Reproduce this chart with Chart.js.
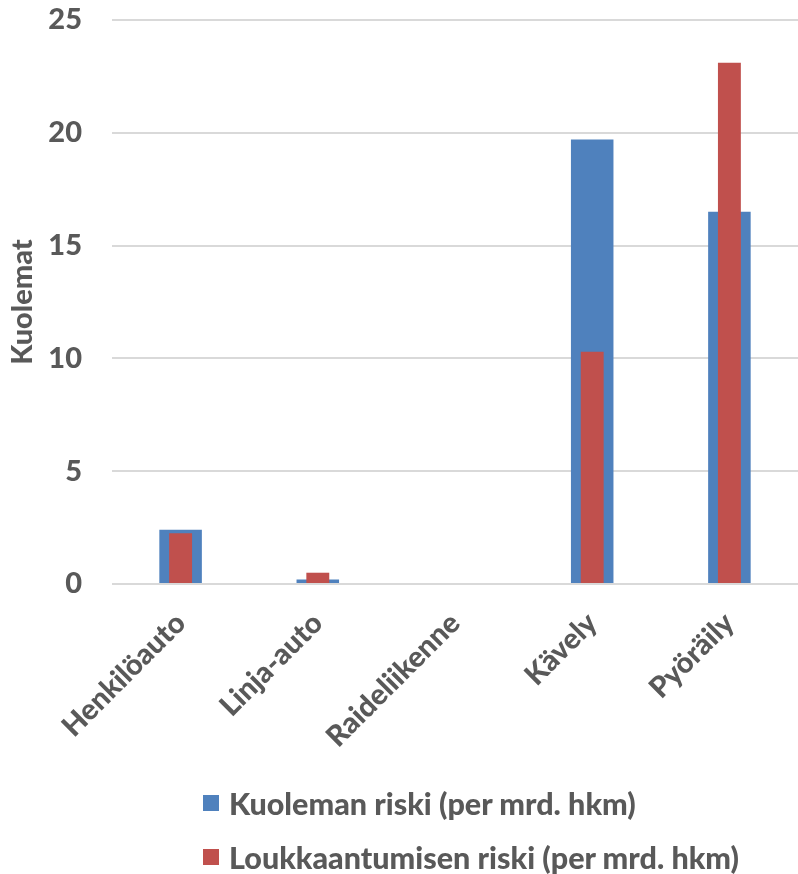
<!DOCTYPE html>
<html>
<head>
<meta charset="utf-8">
<script src="https://cdn.jsdelivr.net/npm/chart.js@4/dist/chart.umd.min.js"></script>
<style>
  html, body { margin: 0; padding: 0; background: #fff; }
  #wrap { position: relative; width: 798px; height: 874px; }
  #c { position: absolute; left: 0; top: 0; }
  #legend { position: absolute; left: 203px; top: 776px; font-family: Lato, "Open Sans", sans-serif;
            font-weight: 900; font-size: 30.5px; color: #595959; }
  .row { display: flex; align-items: center; height: 54px; white-space: nowrap; }
  .box { width: 16px; height: 16px; margin-right: 10px; flex: none; }
</style>
</head>
<body>
<div id="wrap">
  <canvas id="c" width="798" height="874"></canvas>
  <div id="legend"></div>
</div>
<script>
const categories = ['Henkilöauto', 'Linja-auto', 'Raideliikenne', 'Kävely', 'Pyöräily'];
const kuolemanRiski = [2.4, 0.2, 0, 19.7, 16.5];
const loukkaantumisenRiski = [2.25, 0.5, 0, 10.3, 23.1];
const seriesNames = ['Kuoleman riski (per mrd. hkm)', 'Loukkaantumisen riski (per mrd. hkm)'];
const seriesColors = ['#4f81bd', '#c0504d'];
const yTicks = [0, 5, 10, 15, 20, 25];

const textColor = '#595959';
const fontFamily = 'Lato, "Open Sans", sans-serif';
const fontWeight = '900';

const chart = new Chart(document.getElementById('c'), {
  type: 'bar',
  data: {
    labels: categories,
    datasets: [
      { label: seriesNames[0], data: kuolemanRiski, backgroundColor: seriesColors[0],
        grouped: false, barPercentage: 0.31, categoryPercentage: 1, order: 1 },
      { label: seriesNames[1], data: loukkaantumisenRiski, backgroundColor: seriesColors[1],
        grouped: false, barPercentage: 0.167, categoryPercentage: 1, order: 0 }
    ]
  },
  options: {
    responsive: false,
    animation: false,
    layout: { padding: { top: 20, right: 0, bottom: 0, left: 0 } },
    plugins: { legend: { display: false }, tooltip: { enabled: false } },
    scales: {
      x: {
        grid: { display: false, drawTicks: false },
        border: { display: false },
        ticks: { color: textColor, font: { family: fontFamily, size: 29, weight: fontWeight },
                 minRotation: 45, maxRotation: 45, padding: 22, autoSkip: false },
        afterFit: s => { s.height = 290; s.paddingRight = 0; }
      },
      y: {
        min: 0, max: 25,
        afterBuildTicks: s => { s.ticks = yTicks.map(v => ({ value: v })); },
        grid: { color: '#d9d9d9', lineWidth: 2, drawTicks: false },
        border: { display: false },
        ticks: { color: textColor, font: { family: fontFamily, size: 29, weight: fontWeight }, padding: 30 },
        title: { display: true, text: 'Kuolemat', color: textColor,
                 font: { family: fontFamily, size: 29, weight: fontWeight }, padding: { top: 5, bottom: 0 } },
        afterFit: s => { s.width = 112; s.paddingTop = 0; s.paddingBottom = 0; }
      }
    }
  }
});

// legend rows built from the series definitions
const legend = document.getElementById('legend');
seriesNames.forEach((name, i) => {
  const row = document.createElement('div');
  row.className = 'row';
  const box = document.createElement('span');
  box.className = 'box';
  box.style.background = seriesColors[i];
  const txt = document.createElement('span');
  txt.textContent = name;
  row.appendChild(box);
  row.appendChild(txt);
  legend.appendChild(row);
});
</script>
</body>
</html>
